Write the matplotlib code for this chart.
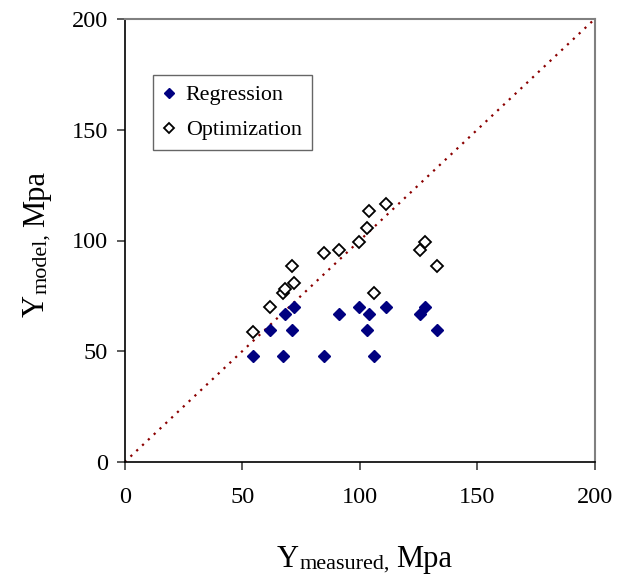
import matplotlib
matplotlib.use("Agg")
import matplotlib.pyplot as plt

plt.rcParams['font.family'] = ['Liberation Serif', 'DejaVu Serif']

# Data
measured = [54.4, 67.5, 84.8, 106.1,
            61.8, 71.1, 103.2, 132.8,
            68.2, 91.2, 104.0, 125.7,
            71.9, 99.7, 111.2, 127.8]
regression = [48.0, 48.0, 48.0, 48.0,
              59.5, 59.5, 59.5, 59.5,
              67.0, 67.0, 67.0, 67.0,
              70.0, 70.0, 70.0, 70.0]
optimization = [58.6, 76.2, 94.5, 76.2,
                70.1, 88.3, 105.8, 88.3,
                78.1, 95.8, 113.3, 95.8,
                80.7, 99.2, 116.5, 99.2]
line_x = [0, 200]
line_y = [0, 200]
ticks = [0, 50, 100, 150, 200]

W, H = 639, 578
fig = plt.figure(figsize=(W/100, H/100), dpi=100)
ax = fig.add_axes([124.7/W, 1-462/H, 470/W, 443/H])

ax.plot(line_x, line_y, color='#8B0000', lw=1.6, linestyle=(0, (1, 2.6)), zorder=1)
ax.plot(measured, regression, linestyle='none', marker='D', ms=6.2,
        mfc='#000080', mec='#000080', label='Regression', zorder=3)
ax.plot(measured, optimization, linestyle='none', marker='D', ms=6.2,
        mfc='white', mec='black', mew=1.3, label='Optimization', zorder=3)

ax.set_xlim(0, 200)
ax.set_ylim(0, 200)
ax.set_xticks(ticks)
ax.set_yticks(ticks)
ax.tick_params(axis='both', direction='out', length=6, width=1.2,
               labelsize=17.5, color='#404040')
ax.tick_params(axis='x', pad=12)
ax.tick_params(axis='y', pad=6)

for s in ['top', 'right']:
    ax.spines[s].set_color('#808080')
    ax.spines[s].set_linewidth(1.5)
for s in ['left', 'bottom']:
    ax.spines[s].set_color('black')
    ax.spines[s].set_linewidth(1.2)

leg = ax.legend(loc='upper left', bbox_to_anchor=(0.06, 0.8736), fontsize=15.8,
                frameon=True, fancybox=False, edgecolor='#404040',
                handlelength=0.6, handletextpad=0.45, markerscale=0.8,
                labelspacing=0.67, borderpad=0.45, borderaxespad=0)
leg.get_frame().set_linewidth(1.0)

# Axis labels composed of main text + subscript
renderer = fig.canvas.get_renderer()
big, small = 22, 16

# x label
x0, yb = 276.7, 567.0
t1 = fig.text(x0/W, 1-yb/H, 'Y', fontsize=big, ha='left', va='baseline')
w1 = t1.get_window_extent(renderer).width
t2 = fig.text((x0+w1+1)/W, 1-(yb+2)/H, 'measured,', fontsize=small, ha='left', va='baseline')
w2 = t2.get_window_extent(renderer).width
fig.text((x0+w1+1+w2+6)/W, 1-yb/H, 'Mpa', fontsize=big, ha='left', va='baseline')

# y label (rotated 90, reading bottom to top)
xb, y0 = 44.0, 317.0
s1 = fig.text(xb/W, 1-y0/H, 'Y', fontsize=big, ha='left', va='baseline',
              rotation=90, rotation_mode='anchor')
h1 = s1.get_window_extent(renderer).height
s2 = fig.text((xb+2)/W, 1-(y0-h1-1)/H, 'model,', fontsize=small, ha='left', va='baseline',
              rotation=90, rotation_mode='anchor')
h2 = s2.get_window_extent(renderer).height
fig.text(xb/W, 1-(y0-h1-1-h2-6)/H, 'Mpa', fontsize=big, ha='left', va='baseline',
         rotation=90, rotation_mode='anchor')

fig.savefig('out.png', dpi=100)
